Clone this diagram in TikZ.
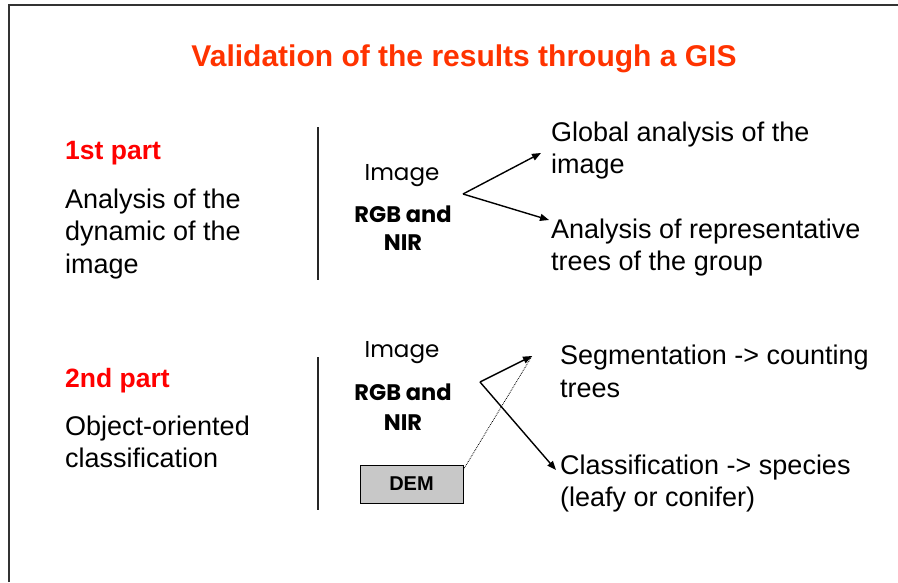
\documentclass[tikz,border=0pt]{standalone}
\usepackage{fontspec}
\setmainfont{Liberation Sans}
\newfontfamily\handfont{Poppins}
\usetikzlibrary{arrows.meta}
\definecolor{titleorange}{HTML}{FF3300}
\definecolor{partred}{HTML}{FF0000}
\definecolor{demgray}{HTML}{C8C8C8}

\begin{document}
\begin{tikzpicture}[x=1pt, y=-1pt, >={Triangle[length=9pt,width=7pt]},
    % multi-line nodes sit on the baseline of their last line
    body/.style={anchor=base west, inner sep=0pt, align=left, font=\fontsize{27}{32.5}\selectfont},
    part/.style={anchor=base west, inner sep=0pt, text=partred, font=\fontsize{26.5}{32}\selectfont\bfseries},
    hand/.style={anchor=base, inner sep=0pt, align=center, font=\handfont\fontsize{23}{29}\selectfont},
    divider/.style={line width=2pt, black!85},
    fork/.style={->, line width=1.4pt}]

    \useasboundingbox (0,0) rectangle (898,582);
    % slide frame
    \draw[line width=2pt, black!80] (9,582) -- (9,5) -- (898,5);

    \node[anchor=base, inner sep=0pt, text=titleorange, font=\fontsize{30}{36}\selectfont\bfseries] (title) at (464,66) {Validation of the results through a GIS};

    % first part
    \node[part] (p1)    at (65,159) {1st part};
    \node[body] (p1txt) at (65,273) {Analysis of the\\dynamic of the\\image};
    \draw[divider] (318,127) -- (318,280);
    \node[hand] (img1) at (402,180) {Image};
    \node[hand, font=\handfont\bfseries\fontsize{22.5}{28}\selectfont] (rgb1) at (403,250) {RGB and\\NIR};
    \node[body] (glob) at (551,173.5) {Global analysis of the\\image};
    \node[body] (repr) at (551,270.5) {Analysis of representative\\trees of the group};

    \coordinate (fork1) at (463,194);
    \coordinate (tip1a) at (541,153);
    \coordinate (tip1b) at (549,220);
    \draw[fork] (fork1) -- (tip1a);
    \draw[fork] (fork1) -- (tip1b);

    % second part
    \node[part] (p2)    at (65,387) {2nd part};
    \node[body] (p2txt) at (65,467.5) {Object-oriented\\classification};
    \draw[divider] (318,357) -- (318,510);
    \node[hand] (img2) at (402,357) {Image};
    \node[hand, font=\handfont\bfseries\fontsize{22.5}{30}\selectfont] (rgb2) at (403,430) {RGB and\\NIR};
    \node[draw=black, line width=0.8pt, fill=demgray, minimum width=103pt, minimum height=38pt,
          font=\fontsize{20}{24}\selectfont\bfseries] (dem) at (411.5,484) {DEM};
    \node[body] (segm) at (560,397) {Segmentation -> counting\\trees};
    \node[body] (clas) at (560,506.5) {Classification -> species\\(leafy or conifer)};

    \coordinate (fork2) at (480,382);
    \coordinate (tip2a) at (532,356);
    \coordinate (tip2b) at (556,470);
    \draw[fork] (fork2) -- (tip2a);
    \draw[fork] (fork2) -- (tip2b);
    \draw[densely dotted, line width=0.8pt] ([yshift=-5pt]dem.north east) -- (tip2a);
\end{tikzpicture}
\end{document}
